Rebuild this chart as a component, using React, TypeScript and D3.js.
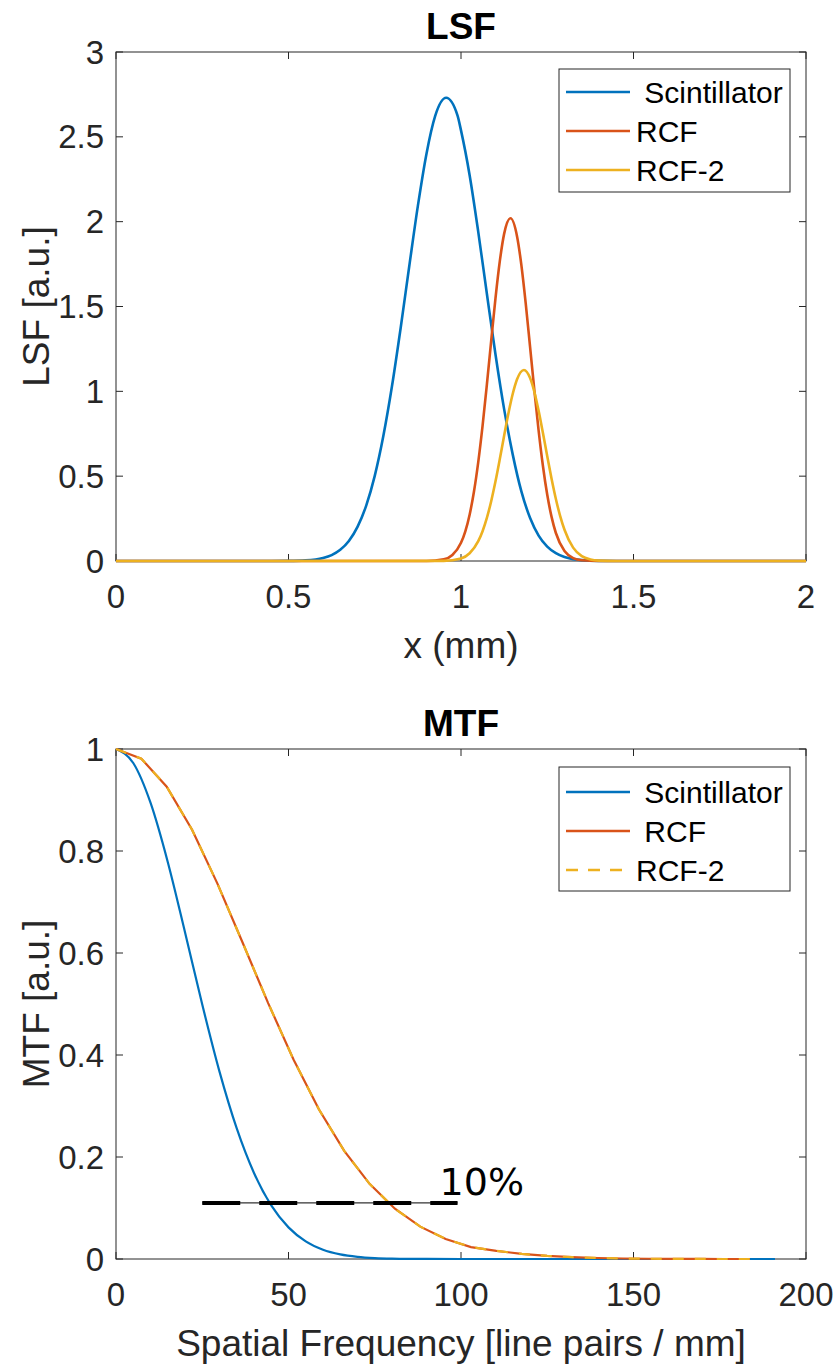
import React from 'react';
import * as d3 from 'd3';

const W = 836;
const H = 1365;

// ---- LSF panel data (x in mm) ----
const scintX = [0, 0.45, 0.5, 0.55, 0.6, 0.625, 0.65, 0.675, 0.7, 0.725, 0.75, 0.775, 0.8, 0.825, 0.85, 0.875, 0.9, 0.925, 0.957, 0.99, 1.0, 1.025, 1.05, 1.075, 1.1, 1.125, 1.15, 1.175, 1.2, 1.225, 1.25, 1.275, 1.3, 1.325, 1.35, 1.4, 1.45, 1.5, 2];
const scintLSF = [0, 0.0001, 0.0007, 0.0039, 0.0178, 0.035, 0.066, 0.118, 0.201, 0.325, 0.502, 0.738, 1.031, 1.372, 1.737, 2.093, 2.401, 2.622, 2.73, 2.625, 2.538, 2.274, 1.94, 1.575, 1.217, 0.895, 0.627, 0.41, 0.255, 0.15, 0.085, 0.046, 0.023, 0.011, 0.005, 0.001, 0.0002, 0, 0];

const rcfX = [0, 0.9, 0.95, 0.975, 1.0, 1.0125, 1.025, 1.0375, 1.05, 1.0625, 1.075, 1.0875, 1.1, 1.1125, 1.125, 1.1435, 1.1625, 1.175, 1.1875, 1.2, 1.2125, 1.225, 1.2375, 1.25, 1.2625, 1.275, 1.3, 1.325, 1.35, 1.4, 2];
const rcfLSF = [0, 0.0004, 0.0096, 0.035, 0.107, 0.175, 0.273, 0.408, 0.583, 0.796, 1.04, 1.298, 1.549, 1.767, 1.928, 2.02, 1.913, 1.744, 1.52, 1.267, 1.009, 0.769, 0.56, 0.39, 0.26, 0.165, 0.0586, 0.0173, 0.0043, 0.0002, 0];

const rcf2X = [0, 0.95, 1.0, 1.025, 1.05, 1.0625, 1.075, 1.0875, 1.1, 1.1125, 1.125, 1.1375, 1.15, 1.1625, 1.1825, 1.2, 1.2125, 1.225, 1.2375, 1.25, 1.2625, 1.275, 1.2875, 1.3, 1.325, 1.35, 1.375, 1.4, 1.45, 2];
const rcf2LSF = [0, 0.001, 0.0152, 0.0456, 0.1168, 0.1757, 0.254, 0.3525, 0.4696, 0.6007, 0.7379, 0.8703, 0.9856, 1.0716, 1.126, 1.0795, 0.9976, 0.8853, 0.7543, 0.617, 0.4847, 0.3656, 0.2647, 0.1841, 0.0787, 0.0287, 0.0089, 0.0023, 0.0001, 0];

// ---- MTF panel data (line pairs / mm) ----
const scintFreq = [0, 5, 10, 15, 20, 25, 30, 35, 40, 45, 50, 55, 60, 65, 70, 75, 80, 90, 100, 191];
const scintMTF = [1, 0.9726, 0.8947, 0.7786, 0.6408, 0.4989, 0.3674, 0.256, 0.1687, 0.1051, 0.062, 0.0346, 0.0182, 0.0091, 0.0043, 0.0019, 0.0008, 0.0001, 0, 0];

const rcfFreq = [0, 7.35, 14.7, 22.05, 29.4, 36.75, 44.1, 51.45, 58.8, 66.15, 73.5, 80.85, 88.2, 95.55, 102.9, 110.25, 117.6, 124.95, 132.3, 139.65, 147, 154.35, 161.7, 169.05, 176.4, 183.75];
const rcfMTF = [1, 0.981, 0.9262, 0.8416, 0.736, 0.6195, 0.5018, 0.3911, 0.2935, 0.2119, 0.1473, 0.0985, 0.0634, 0.0393, 0.0234, 0.016, 0.01, 0.006, 0.0035, 0.002, 0.001, 0.0005, 0.0002, 0.0001, 0, 0];
const rcf2MTF = [1, 0.981, 0.9262, 0.8416, 0.736, 0.6195, 0.5018, 0.3911, 0.2935, 0.2119, 0.1473, 0.0985, 0.0634, 0.0393, 0.0234, 0.016, 0.01, 0.006, 0.0035, 0.002, 0.001, 0.0005, 0.0002, 0.0001, 0, 0];

// 10 % reference level
const tenPctFreq = [25, 99];
const tenPctLevel = 0.11;
const tenPctLabel = '10%';

// ---- ticks & labels ----
const lsfXTicks = [0, 0.5, 1, 1.5, 2];
const lsfYTicks = [0, 0.5, 1, 1.5, 2, 2.5, 3];
const mtfXTicks = [0, 50, 100, 150, 200];
const mtfYTicks = [0, 0.2, 0.4, 0.6, 0.8, 1];
const lsfLegend = [' Scintillator', 'RCF', 'RCF-2'];
const mtfLegend = [' Scintillator', ' RCF', 'RCF-2'];

const BLUE = '#0072BD';
const RED = '#D95319';
const YELLOW = '#EDB120';
const AXC = '#262626';
const FONT = '"Liberation Sans", Arial, Helvetica, sans-serif';

type Box = { left: number; right: number; top: number; bottom: number };

const lsfBox: Box = { left: 116, right: 806, top: 52, bottom: 561 };
const mtfBox: Box = { left: 116, right: 806, top: 749, bottom: 1259 };

function Frame({ box, x, y, xTicks, yTicks, title, xLabel, yLabel }: any) {
  const tl = 7;
  return (
    <g>
      {xTicks.map((t: number) => (
        <g key={'xt' + t}>
          <line x1={x(t)} x2={x(t)} y1={box.bottom} y2={box.bottom - tl} stroke={AXC} strokeWidth={1} />
          <line x1={x(t)} x2={x(t)} y1={box.top} y2={box.top + tl} stroke={AXC} strokeWidth={1} />
          <text x={x(t)} y={box.bottom + 35} textAnchor="middle" dominantBaseline="central" fontSize={33} fill={AXC}>
            {String(t)}
          </text>
        </g>
      ))}
      {yTicks.map((t: number) => (
        <g key={'yt' + t}>
          <line x1={box.left} x2={box.left + tl} y1={y(t)} y2={y(t)} stroke={AXC} strokeWidth={1} />
          <line x1={box.right} x2={box.right - tl} y1={y(t)} y2={y(t)} stroke={AXC} strokeWidth={1} />
          <text x={box.left - 12} y={y(t)} textAnchor="end" dominantBaseline="central" fontSize={33} fill={AXC}>
            {String(t)}
          </text>
        </g>
      ))}
      <rect x={box.left} y={box.top} width={box.right - box.left} height={box.bottom - box.top} fill="none" stroke={AXC} strokeWidth={1} />
      <text x={(box.left + box.right) / 2} y={box.top - 26} textAnchor="middle" dominantBaseline="central" fontSize={37} fontWeight="bold" fill="#000">
        {title}
      </text>
      <text x={(box.left + box.right) / 2} y={box.bottom + 84} textAnchor="middle" dominantBaseline="central" fontSize={37} fill={AXC}>
        {xLabel}
      </text>
      <text
        transform={`translate(36,${(box.top + box.bottom) / 2}) rotate(-90)`}
        textAnchor="middle"
        dominantBaseline="central"
        fontSize={37}
        fill={AXC}
      >
        {yLabel}
      </text>
    </g>
  );
}

function Legend({ x0, y0, w, h, rows, labels, styles }: any) {
  return (
    <g>
      <rect x={x0} y={y0} width={w} height={h} fill="#fff" stroke={AXC} strokeWidth={1} />
      {labels.map((lab: string, i: number) => (
        <g key={lab + i}>
          <line
            x1={x0 + 7}
            x2={x0 + 71}
            y1={rows[i]}
            y2={rows[i]}
            stroke={styles[i].color}
            strokeWidth={2.5}
            strokeDasharray={styles[i].dash || undefined}
          />
          <text x={x0 + 77} y={rows[i]} dominantBaseline="central" fontSize={30} fill="#000" style={{ whiteSpace: 'pre' }}>
            {lab}
          </text>
        </g>
      ))}
    </g>
  );
}

export default function App() {
  // LSF scales
  const lx = d3.scaleLinear().domain([0, 2]).range([lsfBox.left, lsfBox.right]);
  const ly = d3.scaleLinear().domain([0, 3]).range([lsfBox.bottom, lsfBox.top]);
  // MTF scales
  const mx = d3.scaleLinear().domain([0, 200]).range([mtfBox.left, mtfBox.right]);
  const my = d3.scaleLinear().domain([0, 1]).range([mtfBox.bottom, mtfBox.top]);

  const smooth = (xs: number[], ys: number[], sx: any, sy: any) =>
    d3
      .line<number>()
      .x((_, i) => sx(xs[i]))
      .y((v) => sy(v))
      .curve(d3.curveMonotoneX)(ys) as string;

  const straight = (xs: number[], ys: number[], sx: any, sy: any) =>
    d3
      .line<number>()
      .x((_, i) => sx(xs[i]))
      .y((v) => sy(v))(ys) as string;

  const tenPath = d3
    .line<number>()
    .x((f) => mx(f))
    .y(() => my(tenPctLevel))(tenPctFreq) as string;

  return (
    <svg
      width={W}
      height={H}
      viewBox={`0 0 ${W} ${H}`}
      style={{ position: 'absolute', left: 0, top: 0, background: '#fff' }}
      fontFamily={FONT}
    >
      <rect x={0} y={0} width={W} height={H} fill="#fff" />

      {/* LSF panel */}
      <Frame box={lsfBox} x={lx} y={ly} xTicks={lsfXTicks} yTicks={lsfYTicks} title="LSF" xLabel="x (mm)" yLabel="LSF [a.u.]" />
      <path d={smooth(scintX, scintLSF, lx, ly)} fill="none" stroke={BLUE} strokeWidth={2.6} />
      <path d={smooth(rcfX, rcfLSF, lx, ly)} fill="none" stroke={RED} strokeWidth={2.6} />
      <path d={smooth(rcf2X, rcf2LSF, lx, ly)} fill="none" stroke={YELLOW} strokeWidth={2.6} />
      <Legend
        x0={559}
        y0={69}
        w={231}
        h={123}
        rows={[92, 131, 170]}
        labels={lsfLegend}
        styles={[{ color: BLUE }, { color: RED }, { color: YELLOW }]}
      />

      {/* MTF panel */}
      <Frame
        box={mtfBox}
        x={mx}
        y={my}
        xTicks={mtfXTicks}
        yTicks={mtfYTicks}
        title="MTF"
        xLabel="Spatial Frequency [line pairs / mm]"
        yLabel="MTF [a.u.]"
      />
      <path d={smooth(scintFreq, scintMTF, mx, my)} fill="none" stroke={BLUE} strokeWidth={2.2} />
      <path d={straight(rcfFreq, rcfMTF, mx, my)} fill="none" stroke={RED} strokeWidth={2.2} />
      <path d={straight(rcfFreq, rcf2MTF, mx, my)} fill="none" stroke={YELLOW} strokeWidth={2.2} strokeDasharray="11 11" />

      {/* 10 % level marker */}
      <path d={tenPath} fill="none" stroke="#333" strokeWidth={1.2} />
      <path d={tenPath} fill="none" stroke="#000" strokeWidth={4} strokeDasharray="38 19" />
      <text x={mx(tenPctFreq[1]) - 18} y={my(tenPctLevel) - 8} fontSize={38} fontFamily='"DejaVu Sans", sans-serif' fill="#000">
        {tenPctLabel}
      </text>

      <Legend
        x0={559}
        y0={767}
        w={231}
        h={124}
        rows={[792, 831, 870]}
        labels={mtfLegend}
        styles={[{ color: BLUE }, { color: RED }, { color: YELLOW, dash: '12 10' }]}
      />
    </svg>
  );
}
